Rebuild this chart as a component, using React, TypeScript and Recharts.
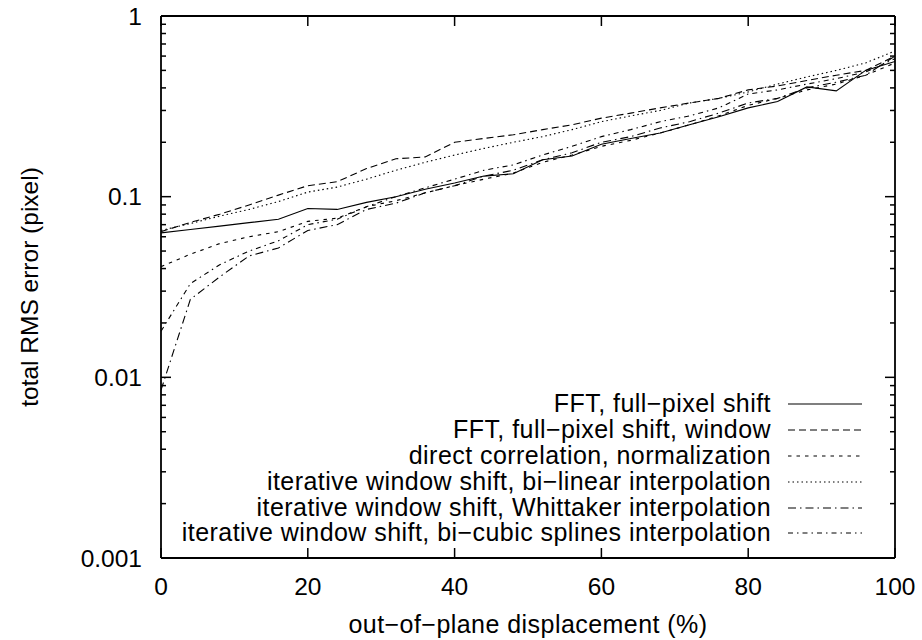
import React from 'react';
import { LineChart, Line, XAxis, YAxis, Legend } from 'recharts';

const displacement = [0, 4, 8, 12, 16, 20, 24, 28, 32, 36, 40, 44, 48, 52, 56, 60, 64, 68, 72, 76, 80, 84, 88, 92, 96, 100];

const fftFull = [0.063, 0.0658, 0.0687, 0.0718, 0.075, 0.086, 0.085, 0.093, 0.1, 0.11, 0.119, 0.13, 0.134, 0.16, 0.168, 0.195, 0.21, 0.225, 0.25, 0.277, 0.31, 0.336, 0.405, 0.385, 0.5, 0.56];
const fftWindow = [0.064, 0.072, 0.08, 0.09, 0.102, 0.115, 0.121, 0.143, 0.162, 0.166, 0.2, 0.21, 0.22, 0.235, 0.25, 0.272, 0.29, 0.31, 0.33, 0.35, 0.39, 0.41, 0.44, 0.47, 0.5, 0.6];
const directCorr = [0.041, 0.048, 0.055, 0.06, 0.064, 0.073, 0.076, 0.088, 0.095, 0.105, 0.115, 0.125, 0.135, 0.155, 0.17, 0.19, 0.205, 0.225, 0.25, 0.28, 0.32, 0.35, 0.39, 0.42, 0.47, 0.55];
const biLinear = [0.065, 0.071, 0.078, 0.085, 0.094, 0.106, 0.113, 0.125, 0.14, 0.155, 0.17, 0.185, 0.2, 0.215, 0.235, 0.26, 0.28, 0.3, 0.33, 0.35, 0.38, 0.42, 0.46, 0.5, 0.55, 0.64];
const whittaker = [0.0085, 0.027, 0.036, 0.047, 0.052, 0.065, 0.07, 0.085, 0.092, 0.105, 0.115, 0.13, 0.14, 0.16, 0.175, 0.2, 0.215, 0.24, 0.26, 0.29, 0.33, 0.35, 0.4, 0.43, 0.47, 0.6];
const biCubic = [0.018, 0.033, 0.042, 0.05, 0.057, 0.07, 0.075, 0.088, 0.1, 0.112, 0.125, 0.14, 0.15, 0.17, 0.19, 0.215, 0.235, 0.26, 0.28, 0.31, 0.37, 0.39, 0.42, 0.45, 0.49, 0.58];

const xTicks = [0, 20, 40, 60, 80, 100];
const yMajorTicks = [0.001, 0.01, 0.1, 1];
const yTickLabels = ['0.001', '0.01', '0.1', '1'];
const minorMultipliers = [1, 2, 3, 4, 5, 6, 7, 8, 9];
const yAllTicks: number[] = [];
[0.001, 0.01, 0.1].forEach((d) => minorMultipliers.forEach((m) => yAllTicks.push(d * m)));
yAllTicks.push(1);

const seriesDefs = [
  { key: 'fftFull', name: 'FFT, full\u2212pixel shift', values: fftFull, dash: undefined as string | undefined },
  { key: 'fftWindow', name: 'FFT, full\u2212pixel shift, window', values: fftWindow, dash: '7 4' },
  { key: 'directCorr', name: 'direct correlation, normalization', values: directCorr, dash: '3.5 5' },
  { key: 'biLinear', name: 'iterative window shift, bi\u2212linear interpolation', values: biLinear, dash: '1.5 3' },
  { key: 'whittaker', name: 'iterative window shift, Whittaker interpolation', values: whittaker, dash: '8 4 1.5 4' },
  { key: 'biCubic', name: 'iterative window shift, bi\u2212cubic splines interpolation', values: biCubic, dash: '5 4 1.5 4' },
];

const data = displacement.map((x, i) => {
  const row: Record<string, number> = { x };
  seriesDefs.forEach((s) => {
    row[s.key] = s.values[i];
  });
  return row;
});

const FONT = '"Liberation Sans", Arial, Helvetica, sans-serif';
const FS = 24.5;
const TFS = 25;
const LS = '0.45px';
const MAJOR = 10;
const MINOR = 5;
const LEFT_MARGIN = 19;
const BOTTOM_MARGIN = 20;

const isMajor = (v: number) => yMajorTicks.findIndex((m) => Math.abs(m - v) < m * 1e-6);

const LeftTick = (props: any) => {
  const { x, y, payload } = props;
  const idx = isMajor(payload.value);
  const ax = x + LEFT_MARGIN;
  return (
    <g>
      <line x1={ax} x2={ax + (idx >= 0 ? MAJOR : MINOR)} y1={y} y2={y} stroke="#000" strokeWidth={1.5} />
      {idx >= 0 && (
        <text x={x} y={y} dy="0.36em" textAnchor="end" fontFamily={FONT} fontSize={FS} fill="#000">
          {yTickLabels[idx]}
        </text>
      )}
    </g>
  );
};

const RightTick = (props: any) => {
  const { x, y, payload } = props;
  const idx = isMajor(payload.value);
  return <line x1={x} x2={x - (idx >= 0 ? MAJOR : MINOR)} y1={y} y2={y} stroke="#000" strokeWidth={1.5} />;
};

const BottomTick = (props: any) => {
  const { x, y, payload } = props;
  const ay = y - BOTTOM_MARGIN;
  return (
    <g>
      <line x1={x} x2={x} y1={ay} y2={ay - MAJOR} stroke="#000" strokeWidth={1.5} />
      <text x={x} y={y} dy="0.71em" textAnchor="middle" fontFamily={FONT} fontSize={FS} fill="#000">
        {payload.value}
      </text>
    </g>
  );
};

const TopTick = (props: any) => {
  const { x, y } = props;
  return <line x1={x} x2={x} y1={y} y2={y + MAJOR} stroke="#000" strokeWidth={1.5} />;
};

const YTitle = (props: any) => {
  const vb = props.viewBox || { y: 16, height: 542 };
  const cy = vb.y + vb.height / 2;
  const cx = 29;
  return (
    <text
      x={cx}
      y={cy}
      transform={`rotate(-90, ${cx}, ${cy})`}
      textAnchor="middle"
      dominantBaseline="central"
      fontFamily={FONT}
      fontSize={FS}
      fill="#000"
    >
      total RMS error (pixel)
    </text>
  );
};

const XTitle = (props: any) => {
  const vb = props.viewBox || { x: 161, width: 734 };
  const cx = vb.x + vb.width / 2;
  return (
    <text x={cx} y={633} textAnchor="middle" fontFamily={FONT} fontSize={TFS} letterSpacing={LS} fill="#000">
      out{'\u2212'}of{'\u2212'}plane displacement (%)
    </text>
  );
};

const LegendContent = () => (
  <div style={{ fontFamily: FONT, fontSize: TFS, letterSpacing: LS, color: '#000' }}>
    {seriesDefs.map((s) => (
      <div key={s.key} style={{ display: 'flex', alignItems: 'center', height: 25.9 }}>
        <span style={{ width: 621, textAlign: 'right', whiteSpace: 'nowrap', lineHeight: '25.9px' }}>{s.name}</span>
        <svg width={91} height={26} style={{ display: 'block' }}>
          <line x1={17} x2={91} y1={13} y2={13} stroke="#000" strokeWidth={1.2} strokeDasharray={s.dash} />
        </svg>
      </div>
    ))}
  </div>
);

export default function App() {
  return (
    <div style={{ position: 'absolute', left: 0, top: 0, background: '#fff' }}>
      <LineChart width={922} height={640} data={data} margin={{ top: 0, right: 0, bottom: 0, left: 0 }}>
        <XAxis
          xAxisId="bottom"
          dataKey="x"
          type="number"
          domain={[0, 100]}
          ticks={xTicks}
          interval={0}
          height={82}
          tickSize={0}
          tickMargin={BOTTOM_MARGIN}
          tick={<BottomTick />}
          axisLine={{ stroke: '#000', strokeWidth: 1.8 }}
          tickLine={false}
          allowDataOverflow
          label={<XTitle />}
        />
        <XAxis
          xAxisId="top"
          orientation="top"
          dataKey="x"
          type="number"
          domain={[0, 100]}
          ticks={xTicks}
          interval={0}
          height={16}
          tickSize={0}
          tickMargin={0}
          tick={<TopTick />}
          axisLine={{ stroke: '#000', strokeWidth: 1.8 }}
          tickLine={false}
          allowDataOverflow
        />
        <YAxis
          yAxisId="left"
          type="number"
          scale="log"
          domain={[0.001, 1]}
          ticks={yAllTicks}
          interval={0}
          width={161}
          tickSize={0}
          tickMargin={LEFT_MARGIN}
          tick={<LeftTick />}
          axisLine={{ stroke: '#000', strokeWidth: 1.8 }}
          tickLine={false}
          allowDataOverflow
          label={<YTitle />}
        />
        <YAxis
          yAxisId="right"
          orientation="right"
          type="number"
          scale="log"
          domain={[0.001, 1]}
          ticks={yAllTicks}
          interval={0}
          width={27}
          tickSize={0}
          tickMargin={0}
          tick={<RightTick />}
          axisLine={{ stroke: '#000', strokeWidth: 1.8 }}
          tickLine={false}
          allowDataOverflow
        />
        <Legend
          layout="vertical"
          align="center"
          verticalAlign="middle"
          content={<LegendContent />}
          wrapperStyle={{ position: 'absolute', left: 150, top: 391, width: 712, height: 160 }}
        />
        {seriesDefs.map((s) => (
          <Line
            key={s.key}
            xAxisId="bottom"
            yAxisId="left"
            type="linear"
            dataKey={s.key}
            name={s.name}
            stroke="#000"
            strokeWidth={1.1}
            strokeDasharray={s.dash}
            dot={false}
            activeDot={false}
            isAnimationActive={false}
          />
        ))}
      </LineChart>
    </div>
  );
}
